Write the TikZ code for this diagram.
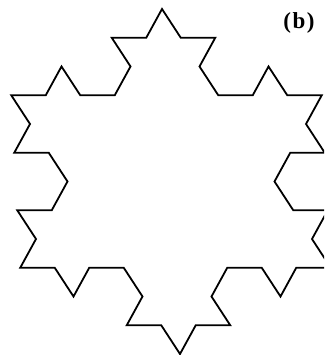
\documentclass[tikz,border=0pt]{standalone}
\usepackage{fontspec}
\setmainfont{Liberation Serif}
\begin{document}
\begin{tikzpicture}[x=1pt,y=-1pt,
  flake/.style={draw=black, line width=1.8pt, line join=miter},
  tag/.style={font=\fontsize{23}{25}\selectfont\bfseries, inner sep=0pt}]
\useasboundingbox (0,0) rectangle (324,355);
\clip (0,0) rectangle (324,355);
\node[tag] (label) at (299,23) {(\kern1.5pt b\kern1.5pt)};
\begin{scope}[shift={(171,181.5)}, x={(34.5pt,0pt)}, y={(-1.73pt,33.2pt)}]
\draw[flake] (0,5.196)
  % side 1
  -- ++(-0.5,-0.866) -- ++(-1,0) -- ++(0.5,-0.866) -- ++(-0.5,-0.866)
  -- ++(-1,0) -- ++(-0.5,0.866) -- ++(-0.5,-0.866) -- ++(-1,0)
  -- ++(0.5,-0.866) -- ++(-0.5,-0.866) -- ++(1,0) -- ++(0.5,-0.866)
  -- ++(-0.5,-0.866) -- ++(-1,0) -- ++(0.5,-0.866) -- ++(-0.5,-0.866)
  % side 2
  -- ++(1,0) -- ++(0.5,-0.866) -- ++(0.5,0.866) -- ++(1,0)
  -- ++(0.5,-0.866) -- ++(-0.5,-0.866) -- ++(1,0) -- ++(0.5,-0.866)
  -- ++(0.5,0.866) -- ++(1,0) -- ++(-0.5,0.866) -- ++(0.5,0.866)
  -- ++(1,0) -- ++(0.5,-0.866) -- ++(0.5,0.866) -- ++(1,0)
  % side 3
  -- ++(-0.5,0.866) -- ++(0.5,0.866) -- ++(-1,0) -- ++(-0.5,0.866)
  -- ++(0.5,0.866) -- ++(1,0) -- ++(-0.5,0.866) -- ++(0.5,0.866)
  -- ++(-1,0) -- ++(-0.5,0.866) -- ++(-0.5,-0.866) -- ++(-1,0)
  -- ++(-0.5,0.866) -- ++(0.5,0.866) -- ++(-1,0) -- cycle;
\end{scope}
\end{tikzpicture}
\end{document}
